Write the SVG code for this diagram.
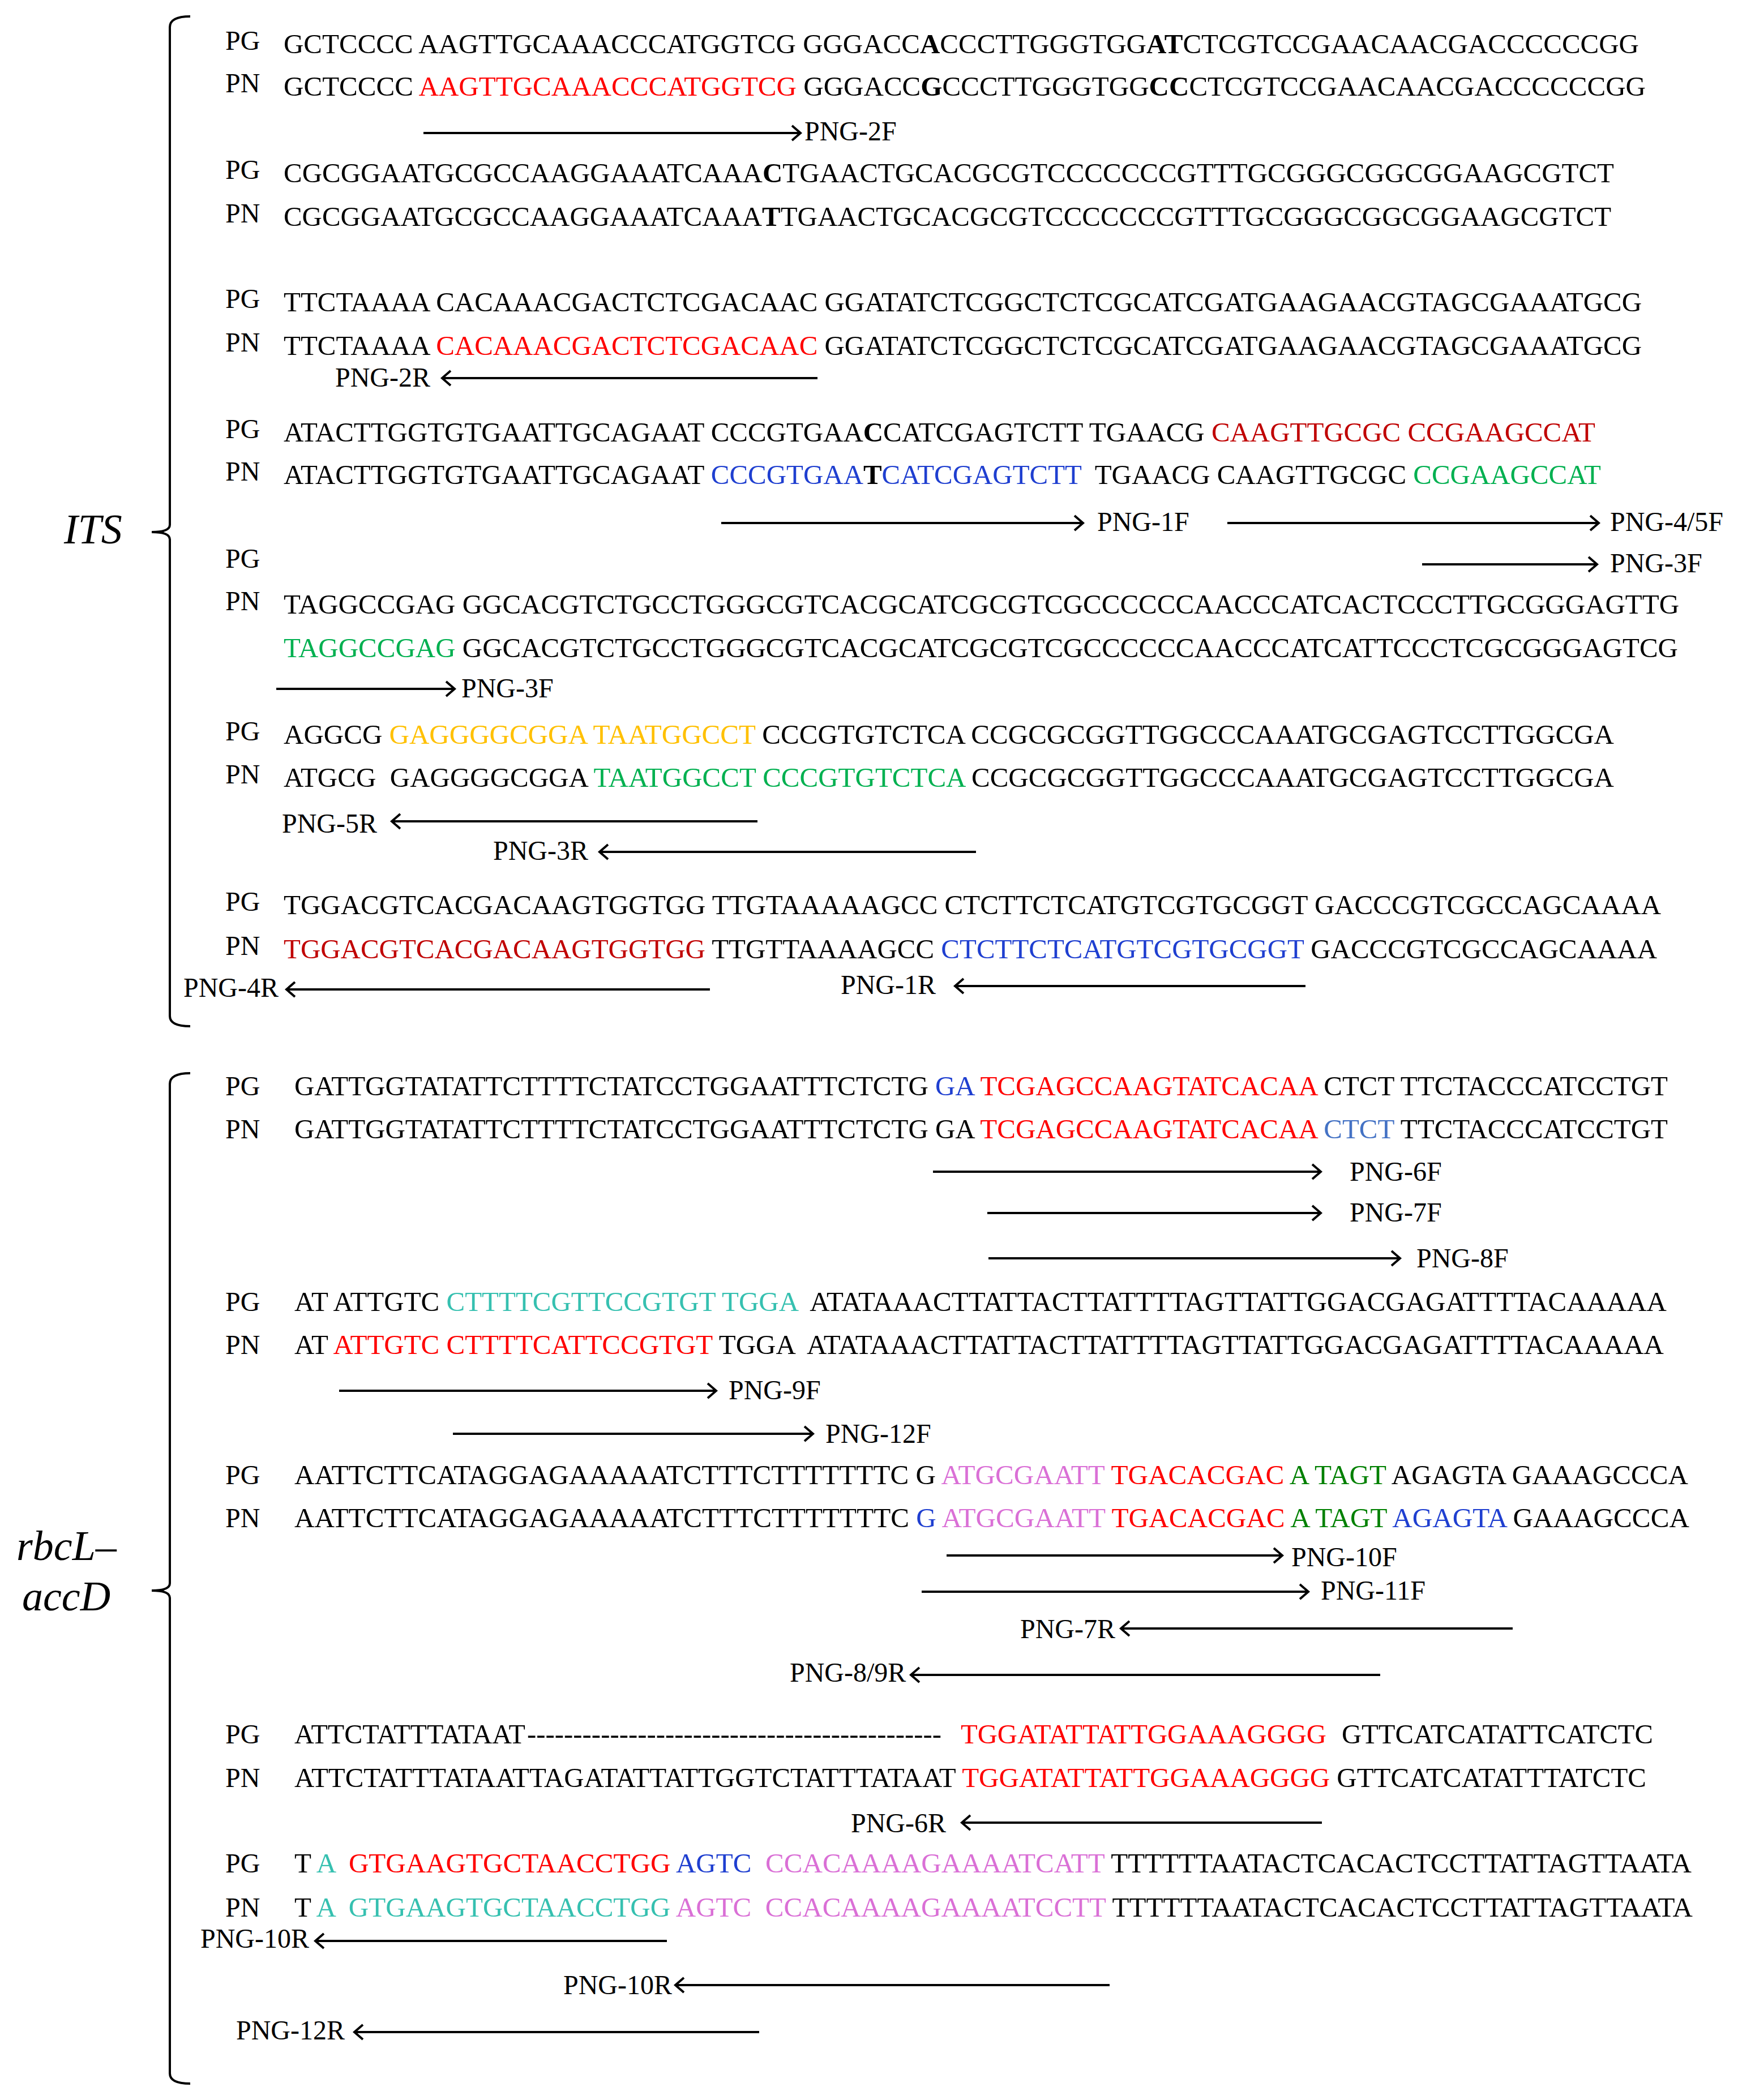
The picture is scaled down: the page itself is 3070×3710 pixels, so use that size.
<svg xmlns="http://www.w3.org/2000/svg" width="3070" height="3710" viewBox="0 0 3070 3710">
<defs>
<style>
text{font-family:"Liberation Serif","Times New Roman",serif;font-size:48px;fill:#000}
.sec{font-size:74px;font-style:italic}
.r{fill:#FF0000}.dr{fill:#C00000}.b{fill:#1F3FD0}.lb{fill:#4472C4}.g{fill:#00B050}.dg{fill:#008000}.o{fill:#FFC000}.t{fill:#36C0B0}.v{fill:#DA70D6}.bd{font-weight:bold}
.a{stroke:#000;stroke-width:4;fill:none;marker-end:url(#ah)}
.br{stroke:#000;stroke-width:4;fill:none}
</style>
<marker id="ah" markerUnits="userSpaceOnUse" markerWidth="24" markerHeight="32" viewBox="0 0 24 32" refX="18" refY="16" orient="auto">
<path d="M3,3 L18,16 L3,29" fill="none" stroke="#000" stroke-width="4"/>
</marker>
</defs>
<rect width="3070" height="3710" fill="#fff"/>

<g id="brackets">
<path class="br" d="M336,29 Q300,29 300,48 L300,927 Q300,940 268,940 Q300,940 300,953 L300,1795 Q300,1813 336,1813"/>
<path class="br" d="M336,1896 Q300,1896 300,1915 L300,2797 Q300,2810 268,2810 Q300,2810 300,2823 L300,3663 Q300,3681 336,3681"/>
<text class="sec" x="113" y="960">ITS</text>
<text class="sec" x="29" y="2756">rbcL–</text>
<text class="sec" x="39" y="2845">accD</text>
</g>

<g id="its">
<g id="its-r1">
<text x="398" y="88">PG</text>
<text x="501" y="94" textLength="2394" lengthAdjust="spacingAndGlyphs" xml:space="preserve">GCTCCCC AAGTTGCAAACCCATGGTCG GGGACC<tspan class="bd">A</tspan>CCCTTGGGTGG<tspan class="bd">AT</tspan>CTCGTCCGAACAACGACCCCCCGG</text>
<text x="398" y="163">PN</text>
<text x="501" y="169" textLength="2406" lengthAdjust="spacingAndGlyphs" xml:space="preserve">GCTCCCC <tspan class="r">AAGTTGCAAACCCATGGTCG</tspan> GGGACC<tspan class="bd">G</tspan>CCCTTGGGTGG<tspan class="bd">CC</tspan>CTCGTCCGAACAACGACCCCCCGG</text>
</g>
<g id="its-r2">
<text x="398" y="316">PG</text>
<text x="501" y="322" textLength="2350" lengthAdjust="spacingAndGlyphs" xml:space="preserve">CGCGGAATGCGCCAAGGAAATCAAA<tspan class="bd">C</tspan>TGAACTGCACGCGTCCCCCCCGTTTGCGGGCGGCGGAAGCGTCT</text>
<text x="398" y="393">PN</text>
<text x="501" y="399" textLength="2345" lengthAdjust="spacingAndGlyphs" xml:space="preserve">CGCGGAATGCGCCAAGGAAATCAAA<tspan class="bd">T</tspan>TGAACTGCACGCGTCCCCCCCGTTTGCGGGCGGCGGAAGCGTCT</text>
</g>
<g id="its-r3">
<text x="398" y="544">PG</text>
<text x="501" y="550" textLength="2399" lengthAdjust="spacingAndGlyphs" xml:space="preserve">TTCTAAAA CACAAACGACTCTCGACAAC GGATATCTCGGCTCTCGCATCGATGAAGAACGTAGCGAAATGCG</text>
<text x="398" y="621">PN</text>
<text x="501" y="627" textLength="2399" lengthAdjust="spacingAndGlyphs" xml:space="preserve">TTCTAAAA <tspan class="r">CACAAACGACTCTCGACAAC</tspan> GGATATCTCGGCTCTCGCATCGATGAAGAACGTAGCGAAATGCG</text>
</g>
<g id="its-r4">
<text x="398" y="774">PG</text>
<text x="501" y="780" textLength="2317" lengthAdjust="spacingAndGlyphs" xml:space="preserve">ATACTTGGTGTGAATTGCAGAAT CCCGTGAA<tspan class="bd">C</tspan>CATCGAGTCTT TGAACG <tspan class="dr">CAAGTTGCGC CCGAAGCCAT</tspan></text>
<text x="398" y="849">PN</text>
<text x="501" y="855" textLength="2327" lengthAdjust="spacingAndGlyphs" xml:space="preserve">ATACTTGGTGTGAATTGCAGAAT <tspan class="b">CCCGTGAA</tspan><tspan class="bd">T</tspan><tspan class="b">CATCGAGTCTT</tspan>  TGAACG CAAGTTGCGC <tspan class="g">CCGAAGCCAT</tspan></text>
</g>
<g id="its-r5">
<text x="398" y="1003">PG</text>
<text x="398" y="1078">PN</text>
<text x="501" y="1084" textLength="2465" lengthAdjust="spacingAndGlyphs" xml:space="preserve">TAGGCCGAG GGCACGTCTGCCTGGGCGTCACGCATCGCGTCGCCCCCCAACCCATCACTCCCTTGCGGGAGTTG</text>
<text x="501" y="1161" textLength="2463" lengthAdjust="spacingAndGlyphs" xml:space="preserve"><tspan class="g">TAGGCCGAG</tspan> GGCACGTCTGCCTGGGCGTCACGCATCGCGTCGCCCCCCAACCCATCATTCCCTCGCGGGAGTCG</text>
</g>
<g id="its-r6">
<text x="398" y="1308">PG</text>
<text x="501" y="1314" textLength="2350" lengthAdjust="spacingAndGlyphs" xml:space="preserve">AGGCG <tspan class="o">GAGGGGCGGA TAATGGCCT</tspan> CCCGTGTCTCA CCGCGCGGTTGGCCCAAATGCGAGTCCTTGGCGA</text>
<text x="398" y="1384">PN</text>
<text x="501" y="1390" textLength="2350" lengthAdjust="spacingAndGlyphs" xml:space="preserve">ATGCG  GAGGGGCGGA <tspan class="g">TAATGGCCT CCCGTGTCTCA</tspan> CCGCGCGGTTGGCCCAAATGCGAGTCCTTGGCGA</text>
</g>
<g id="its-r7">
<text x="398" y="1609">PG</text>
<text x="501" y="1615" textLength="2433" lengthAdjust="spacingAndGlyphs" xml:space="preserve">TGGACGTCACGACAAGTGGTGG TTGTAAAAAGCC CTCTTCTCATGTCGTGCGGT GACCCGTCGCCAGCAAAA</text>
<text x="398" y="1687">PN</text>
<text x="501" y="1693" textLength="2426" lengthAdjust="spacingAndGlyphs" xml:space="preserve"><tspan class="dr">TGGACGTCACGACAAGTGGTGG</tspan> TTGTTAAAAGCC <tspan class="b">CTCTTCTCATGTCGTGCGGT</tspan> GACCCGTCGCCAGCAAAA</text>
</g>
</g>

<g id="rbcl">
<g id="rbcl-r1">
<text x="398" y="1935">PG</text>
<text x="520" y="1935" textLength="2426" lengthAdjust="spacingAndGlyphs" xml:space="preserve">GATTGGTATATTCTTTTCTATCCTGGAATTTCTCTG <tspan class="b">GA</tspan> <tspan class="r">TCGAGCCAAGTATCACAA</tspan> CTCT TTCTACCCATCCTGT</text>
<text x="398" y="2011">PN</text>
<text x="520" y="2011" textLength="2426" lengthAdjust="spacingAndGlyphs" xml:space="preserve">GATTGGTATATTCTTTTCTATCCTGGAATTTCTCTG GA <tspan class="r">TCGAGCCAAGTATCACAA</tspan> <tspan class="lb">CTCT</tspan> TTCTACCCATCCTGT</text>
</g>
<g id="rbcl-r2">
<text x="398" y="2316">PG</text>
<text x="520" y="2316" textLength="2424" lengthAdjust="spacingAndGlyphs" xml:space="preserve">AT ATTGTC <tspan class="t">CTTTTCGTTCCGTGT TGGA</tspan>  ATATAAACTTATTACTTATTTTAGTTATTGGACGAGATTTTACAAAAA</text>
<text x="398" y="2392">PN</text>
<text x="520" y="2392" textLength="2419" lengthAdjust="spacingAndGlyphs" xml:space="preserve">AT <tspan class="r">ATTGTC CTTTTCATTCCGTGT</tspan> TGGA  ATATAAACTTATTACTTATTTTAGTTATTGGACGAGATTTTACAAAAA</text>
</g>
<g id="rbcl-r3">
<text x="398" y="2622">PG</text>
<text x="520" y="2622" textLength="2462" lengthAdjust="spacingAndGlyphs" xml:space="preserve">AATTCTTCATAGGAGAAAAATCTTTCTTTTTTTC G <tspan class="v">ATGCGAATT</tspan> <tspan class="r">TGACACGAC</tspan> <tspan class="dg">A TAGT</tspan> AGAGTA GAAAGCCCA</text>
<text x="398" y="2698">PN</text>
<text x="520" y="2698" textLength="2464" lengthAdjust="spacingAndGlyphs" xml:space="preserve">AATTCTTCATAGGAGAAAAATCTTTCTTTTTTTC <tspan class="b">G</tspan> <tspan class="v">ATGCGAATT</tspan> <tspan class="r">TGACACGAC</tspan> <tspan class="dg">A TAGT</tspan> <tspan class="b">AGAGTA</tspan> GAAAGCCCA</text>
</g>
<g id="rbcl-r4">
<text x="398" y="3080">PG</text>
<text x="520" y="3080" textLength="408" lengthAdjust="spacingAndGlyphs">ATTCTATTTATAAT</text>
<text x="931" y="3080" textLength="732" lengthAdjust="spacingAndGlyphs">---------------------------------------------</text>
<text class="r" x="1697" y="3080" textLength="646" lengthAdjust="spacingAndGlyphs">TGGATATTATTGGAAAGGGG</text>
<text x="2370" y="3080" textLength="550" lengthAdjust="spacingAndGlyphs">GTTCATCATATTCATCTC</text>
<text x="398" y="3157">PN</text>
<text x="520" y="3157" textLength="2388" lengthAdjust="spacingAndGlyphs" xml:space="preserve">ATTCTATTTATAATTAGATATTATTGGTCTATTTATAAT <tspan class="r">TGGATATTATTGGAAAGGGG</tspan> GTTCATCATATTTATCTC</text>
</g>
<g id="rbcl-r5">
<text x="398" y="3308">PG</text>
<text x="520" y="3308" textLength="2468" lengthAdjust="spacingAndGlyphs" xml:space="preserve">T <tspan class="t">A</tspan>  <tspan class="r">GTGAAGTGCTAACCTGG</tspan> <tspan class="b">AGTC</tspan>  <tspan class="v">CCACAAAAGAAAATCATT</tspan> TTTTTTAATACTCACACTCCTTATTAGTTAATA</text>
<text x="398" y="3386">PN</text>
<text x="520" y="3386" textLength="2470" lengthAdjust="spacingAndGlyphs" xml:space="preserve">T <tspan class="t">A  GTGAAGTGCTAACCTGG</tspan> <tspan class="v">AGTC  CCACAAAAGAAAATCCTT</tspan> TTTTTTAATACTCACACTCCTTATTAGTTAATA</text>
</g>
</g>

<g id="connectors">
<line class="a" x1="748" y1="235" x2="1414" y2="235"/>
<line class="a" x1="1444" y1="668" x2="781" y2="668"/>
<line class="a" x1="1274" y1="924" x2="1913" y2="924"/>
<line class="a" x1="2168" y1="924" x2="2824" y2="924"/>
<line class="a" x1="2512" y1="997" x2="2821" y2="997"/>
<line class="a" x1="488" y1="1217" x2="803" y2="1217"/>
<line class="a" x1="1338" y1="1451" x2="692" y2="1451"/>
<line class="a" x1="1724" y1="1505" x2="1059" y2="1505"/>
<line class="a" x1="1254" y1="1748" x2="506" y2="1748"/>
<line class="a" x1="2306" y1="1742" x2="1687" y2="1742"/>
<line class="a" x1="1648" y1="2070" x2="2333" y2="2070"/>
<line class="a" x1="1744" y1="2143" x2="2333" y2="2143"/>
<line class="a" x1="1746" y1="2223" x2="2473" y2="2223"/>
<line class="a" x1="599" y1="2457" x2="1265" y2="2457"/>
<line class="a" x1="800" y1="2533" x2="1436" y2="2533"/>
<line class="a" x1="1672" y1="2748" x2="2265" y2="2748"/>
<line class="a" x1="1628" y1="2812" x2="2311" y2="2812"/>
<line class="a" x1="2672" y1="2877" x2="1980" y2="2877"/>
<line class="a" x1="2438" y1="2959" x2="1609" y2="2959"/>
<line class="a" x1="2335" y1="3220" x2="1699" y2="3220"/>
<line class="a" x1="1178" y1="3429" x2="557" y2="3429"/>
<line class="a" x1="1960" y1="3507" x2="1193" y2="3507"/>
<line class="a" x1="1341" y1="3590" x2="626" y2="3590"/>
</g>

<g id="primer-labels">
<text x="1421" y="248">PNG-2F</text>
<text x="592" y="683">PNG-2R</text>
<text x="1938" y="938">PNG-1F</text>
<text x="2844" y="938">PNG-4/5F</text>
<text x="2844" y="1011">PNG-3F</text>
<text x="815" y="1232">PNG-3F</text>
<text x="498" y="1471">PNG-5R</text>
<text x="871" y="1519">PNG-3R</text>
<text x="324" y="1761">PNG-4R</text>
<text x="1485" y="1756">PNG-1R</text>
<text x="2384" y="2086">PNG-6F</text>
<text x="2384" y="2158">PNG-7F</text>
<text x="2502" y="2239">PNG-8F</text>
<text x="1287" y="2472">PNG-9F</text>
<text x="1458" y="2549">PNG-12F</text>
<text x="2281" y="2767">PNG-10F</text>
<text x="2333" y="2826">PNG-11F</text>
<text x="1802" y="2894">PNG-7R</text>
<text x="1395" y="2971">PNG-8/9R</text>
<text x="1503" y="3237">PNG-6R</text>
<text x="354" y="3441">PNG-10R</text>
<text x="995" y="3523">PNG-10R</text>
<text x="417" y="3603">PNG-12R</text>
</g>
</svg>
